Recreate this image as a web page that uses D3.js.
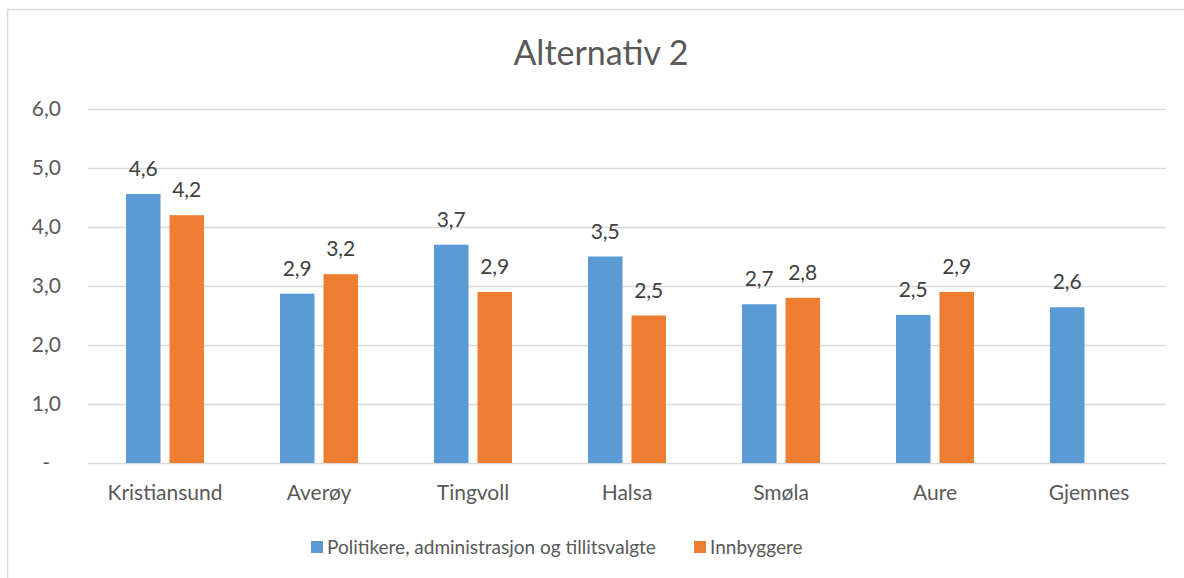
<!doctype html>
<meta charset="utf-8" />
<script src="https://cdn.jsdelivr.net/npm/d3@7/dist/d3.min.js"></script>
<style>
    body {
        margin: 0;
        background: white;
    }

    svg {
        display: block;
    }

    text {
        font-family: Lato, "Open Sans", sans-serif;
        fill: #595959;
    }
</style>
<svg id="chart"></svg>
<script>
    // data
    var categories = ['Kristiansund', 'Averøy', 'Tingvoll', 'Halsa', 'Smøla', 'Aure', 'Gjemnes'];
    var seriesNames = ['Politikere, administrasjon og tillitsvalgte', 'Innbyggere'];
    var politikere = [4.56, 2.87, 3.70, 3.50, 2.69, 2.51, 2.64];
    var innbyggere = [4.20, 3.20, 2.90, 2.50, 2.80, 2.90, null];
    var yTicks = [0, 1, 2, 3, 4, 5, 6];
    var colors = ['#5b9bd5', '#ed7d31'];

    var width = 1184, height = 578;
    var plotLeft = 88, plotRight = 1166, plotTop = 109, plotBottom = 463;

    var svg = d3.select('svg#chart')
        .attr('width', width)
        .attr('height', height);

    // chart frame (right and bottom edges fall outside the picture)
    svg.append('rect')
        .attr('x', 7.5)
        .attr('y', 9.5)
        .attr('width', 1200)
        .attr('height', 600)
        .style('fill', 'none')
        .style('stroke', '#d9d9d9')
        .style('stroke-width', 1.5);

    svg.append('text')
        .attr('x', 601)
        .attr('y', 65)
        .attr('text-anchor', 'middle')
        .style('font-size', '34px')
        .text('Alternativ 2');

    var y = d3.scaleLinear()
        .domain([0, 6])
        .range([plotBottom, plotTop]);

    var x0 = d3.scaleBand()
        .domain(categories)
        .range([plotLeft, plotRight]);

    var x1 = d3.scaleBand()
        .domain([0, 1])
        .range([0, 78])
        .paddingInner(0.207);

    var offset = (x0.bandwidth() - 78) / 2;

    function fmt(d) {
        return d === 0 ? '-' : d3.format('.1f')(d).replace('.', ',');
    }

    var yAxis = svg.append('g')
        .attr('transform', 'translate(' + plotLeft + ',0)')
        .call(d3.axisLeft(y)
            .tickValues(yTicks)
            .tickFormat(fmt)
            .tickSize(-(plotRight - plotLeft))
            .tickPadding(27));

    yAxis.select('.domain').remove();
    yAxis.selectAll('line')
        .style('stroke', '#d9d9d9')
        .style('stroke-width', 1.5);
    yAxis.selectAll('text')
        .style('font-size', '21px')
        .style('fill', '#595959')
        .style('font-family', null)
        .attr('dx', d => d === 0 ? -11 : 0);

    var xAxis = svg.append('g')
        .attr('transform', 'translate(0,' + plotBottom + ')')
        .call(d3.axisBottom(x0).tickSize(0).tickPadding(22));

    xAxis.select('.domain').remove();
    xAxis.selectAll('text')
        .style('font-size', '21px')
        .style('fill', '#595959')
        .style('font-family', null);

    var rows = categories.map((c, i) => ({
        cat: c,
        vals: [politikere[i], innbyggere[i]]
    }));

    var groups = svg.selectAll('g.group')
        .data(rows)
        .enter()
        .append('g')
        .attr('class', 'group')
        .attr('transform', d => 'translate(' + (x0(d.cat) + offset) + ',0)');

    var cells = groups.selectAll('g.cell')
        .data(d => d.vals.map((v, k) => ({ k: k, v: v })).filter(e => e.v !== null))
        .enter()
        .append('g')
        .attr('class', 'cell');

    cells.append('rect')
        .attr('x', d => x1(d.k))
        .attr('y', d => y(d.v))
        .attr('width', x1.bandwidth())
        .attr('height', d => y(0) - y(d.v))
        .style('fill', d => colors[d.k]);

    cells.append('text')
        .attr('x', d => x1(d.k) + x1.bandwidth() / 2)
        .attr('y', d => y(d.v) - 18)
        .attr('text-anchor', 'middle')
        .style('font-size', '21px')
        .style('fill', '#404040')
        .text(d => fmt(d.v));

    // legend
    var legendX = [311, 694];
    var legend = svg.selectAll('g.legend')
        .data(seriesNames)
        .enter()
        .append('g')
        .attr('class', 'legend')
        .attr('transform', (d, i) => 'translate(' + legendX[i] + ',541)');

    legend.append('rect')
        .attr('width', 12)
        .attr('height', 12)
        .style('fill', (d, i) => colors[i]);

    legend.append('text')
        .attr('x', 16)
        .attr('y', 13)
        .style('font-size', '19px')
        .text(d => d);
</script>
